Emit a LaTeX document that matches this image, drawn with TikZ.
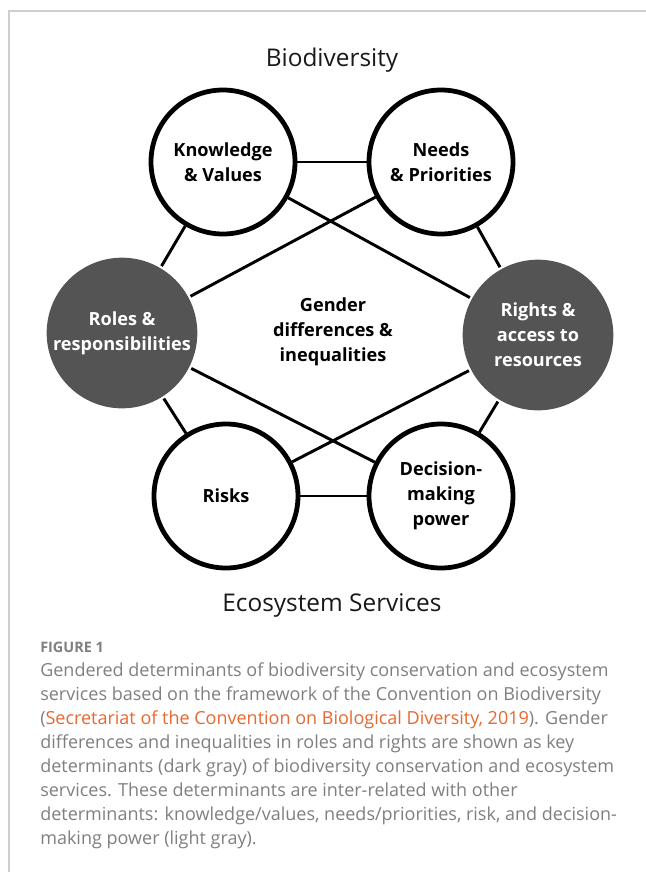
\documentclass[tikz,border=0pt]{standalone}
\usepackage{fontspec}
\setmainfont{Open Sans}
\usepackage{xcolor}
\definecolor{darkdet}{HTML}{545454}
\definecolor{captgray}{HTML}{7F7F7F}
\definecolor{linkorange}{HTML}{E8672E}
\definecolor{framegray}{HTML}{CFCFCF}
\tikzset{
	det/.style={
			circle, draw=black, line width=3.6pt, fill=white,
			minimum size=108pt, inner sep=0pt, align=center,
			font=\bfseries\fontsize{13.6}{18.8}\selectfont
		},
	keydet/.style={
			det, draw=none, fill=darkdet, text=white, minimum size=113pt
		},
	link/.style={line width=2.2pt, black},
	heading/.style={font=\fontsize{18.3}{22}\selectfont, text=black!90}
}

\begin{document}
\begin{tikzpicture}[x=0.75pt,y=-0.75pt]
            \useasboundingbox (0,0) rectangle (646,872);
            \draw[framegray, line width=0.9pt] (646,11) -- (9,11) -- (9,872);
            \node[heading, anchor=base] (bio) at (332,66) {Biodiversity};
            \node[heading, anchor=base] (eco) at (332,611) {Ecosystem Services};
            \node[det] (kv) at (223,162) {Knowledge\\\& Values};
            \node[det] (np) at (441,162) {Needs\\\& Priorities};
            \node[keydet] (rr) at (122,333) {Roles \&\\responsibilities};
            \node[keydet] (ra) at (538,335) {Rights \&\\access to\\resources};
            \node[det] (ri) at (226,496) {Risks};
            \node[det] (dm) at (441,496) {Decision-\\making\\power};
            \node[font=\bfseries\fontsize{13.6}{18.8}\selectfont, align=center] (gd) at (333,332) {Gender\\differences \&\\inequalities};
            \draw[link] (kv) -- (np);
            \draw[link] (ri) -- (dm);
            \draw[link] (kv) -- (rr);
            \draw[link] (np) -- (ra);
            \draw[link] (rr) -- (ri);
            \draw[link] (ra) -- (dm);
            \draw[link] (kv) -- (ra);
            \draw[link] (np) -- (rr);
            \draw[link] (rr) -- (dm);
            \draw[link] (ra) -- (ri);
            \node[anchor=north west, inner sep=0pt, align=left, text=captgray,
                  font=\fontsize{10.8}{12}\selectfont\bfseries] (fig) at (40,642) {FIGURE 1};
            \node[anchor=north west, inner sep=0pt, align=left, text=captgray,
                  font=\fontsize{13.5}{18}\selectfont] (capt) at (40,662) {%
Gendered determinants of biodiversity conservation and ecosystem\\
services based on the framework of the Convention on Biodiversity\\
(\textcolor{linkorange}{Secretariat of the Convention on Biological Diversity, 2019}). Gender\\
differences and inequalities in roles and rights are shown as key\\
determinants (dark gray) of biodiversity conservation and ecosystem\\
services. These determinants are inter-related with other\\
determinants: knowledge/values, needs/priorities, risk, and decision-\\
making power (light gray).};
        \end{tikzpicture}
\end{document}
